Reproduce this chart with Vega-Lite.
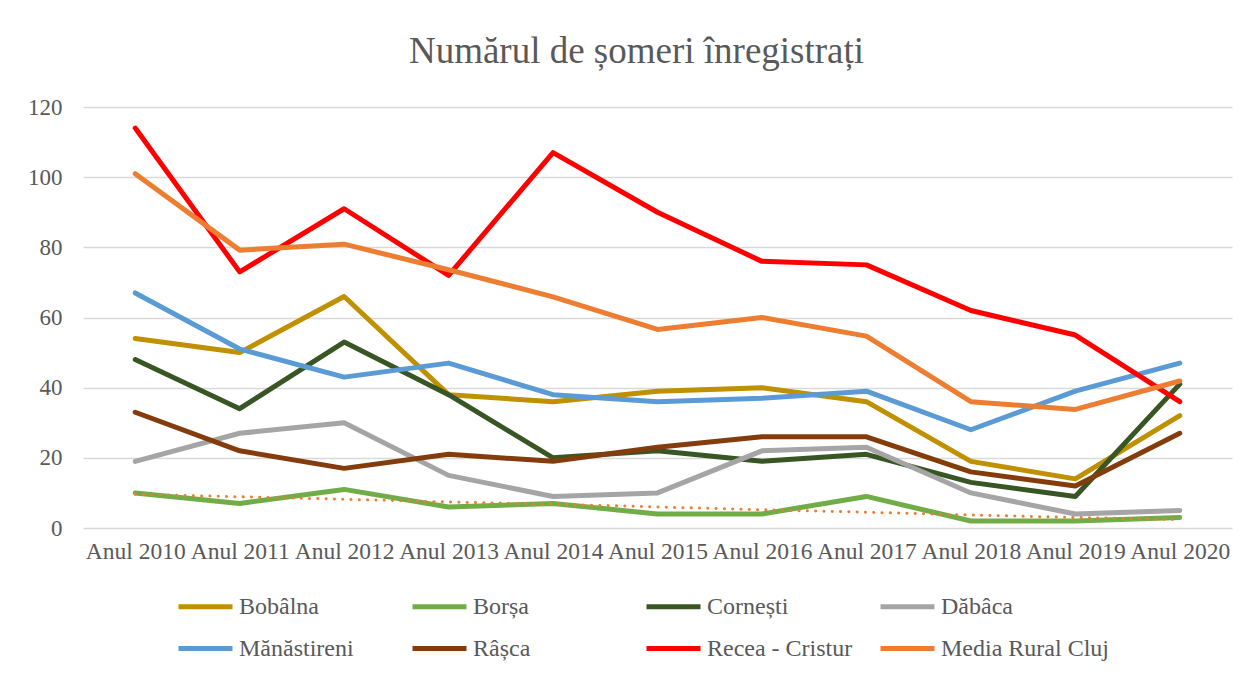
{
  "$schema": "https://vega.github.io/schema/vega-lite/v6.json",
  "autosize": "none",
  "width": 1149,
  "height": 421,
  "padding": {"left": 83, "top": 107, "right": 20, "bottom": 148},
  "background": "white",
  "config": {
    "font": "Liberation Serif",
    "view": {"stroke": null}
  },
  "title": {
    "text": "Numărul de șomeri înregistrați",
    "font": "Liberation Serif",
    "fontSize": 37,
    "fontWeight": "normal",
    "color": "#595959",
    "anchor": "middle",
    "frame": "group",
    "baseline": "alphabetic",
    "offset": -4,
    "dx": -21
  },
  "data": {
    "values": [
      {"an": "Anul 2010", "s": "Bobâlna", "v": 54},
      {"an": "Anul 2011", "s": "Bobâlna", "v": 50},
      {"an": "Anul 2012", "s": "Bobâlna", "v": 66},
      {"an": "Anul 2013", "s": "Bobâlna", "v": 38},
      {"an": "Anul 2014", "s": "Bobâlna", "v": 36},
      {"an": "Anul 2015", "s": "Bobâlna", "v": 39},
      {"an": "Anul 2016", "s": "Bobâlna", "v": 40},
      {"an": "Anul 2017", "s": "Bobâlna", "v": 36},
      {"an": "Anul 2018", "s": "Bobâlna", "v": 19},
      {"an": "Anul 2019", "s": "Bobâlna", "v": 14},
      {"an": "Anul 2020", "s": "Bobâlna", "v": 32},
      {"an": "Anul 2010", "s": "Borșa", "v": 10},
      {"an": "Anul 2011", "s": "Borșa", "v": 7},
      {"an": "Anul 2012", "s": "Borșa", "v": 11},
      {"an": "Anul 2013", "s": "Borșa", "v": 6},
      {"an": "Anul 2014", "s": "Borșa", "v": 7},
      {"an": "Anul 2015", "s": "Borșa", "v": 4},
      {"an": "Anul 2016", "s": "Borșa", "v": 4},
      {"an": "Anul 2017", "s": "Borșa", "v": 9},
      {"an": "Anul 2018", "s": "Borșa", "v": 2},
      {"an": "Anul 2019", "s": "Borșa", "v": 2},
      {"an": "Anul 2020", "s": "Borșa", "v": 3},
      {"an": "Anul 2010", "s": "Cornești", "v": 48},
      {"an": "Anul 2011", "s": "Cornești", "v": 34},
      {"an": "Anul 2012", "s": "Cornești", "v": 53},
      {"an": "Anul 2013", "s": "Cornești", "v": 38},
      {"an": "Anul 2014", "s": "Cornești", "v": 20},
      {"an": "Anul 2015", "s": "Cornești", "v": 22},
      {"an": "Anul 2016", "s": "Cornești", "v": 19},
      {"an": "Anul 2017", "s": "Cornești", "v": 21},
      {"an": "Anul 2018", "s": "Cornești", "v": 13},
      {"an": "Anul 2019", "s": "Cornești", "v": 9},
      {"an": "Anul 2020", "s": "Cornești", "v": 41},
      {"an": "Anul 2010", "s": "Dăbâca", "v": 19},
      {"an": "Anul 2011", "s": "Dăbâca", "v": 27},
      {"an": "Anul 2012", "s": "Dăbâca", "v": 30},
      {"an": "Anul 2013", "s": "Dăbâca", "v": 15},
      {"an": "Anul 2014", "s": "Dăbâca", "v": 9},
      {"an": "Anul 2015", "s": "Dăbâca", "v": 10},
      {"an": "Anul 2016", "s": "Dăbâca", "v": 22},
      {"an": "Anul 2017", "s": "Dăbâca", "v": 23},
      {"an": "Anul 2018", "s": "Dăbâca", "v": 10},
      {"an": "Anul 2019", "s": "Dăbâca", "v": 4},
      {"an": "Anul 2020", "s": "Dăbâca", "v": 5},
      {"an": "Anul 2010", "s": "Mănăstireni", "v": 67},
      {"an": "Anul 2011", "s": "Mănăstireni", "v": 51},
      {"an": "Anul 2012", "s": "Mănăstireni", "v": 43},
      {"an": "Anul 2013", "s": "Mănăstireni", "v": 47},
      {"an": "Anul 2014", "s": "Mănăstireni", "v": 38},
      {"an": "Anul 2015", "s": "Mănăstireni", "v": 36},
      {"an": "Anul 2016", "s": "Mănăstireni", "v": 37},
      {"an": "Anul 2017", "s": "Mănăstireni", "v": 39},
      {"an": "Anul 2018", "s": "Mănăstireni", "v": 28},
      {"an": "Anul 2019", "s": "Mănăstireni", "v": 39},
      {"an": "Anul 2020", "s": "Mănăstireni", "v": 47},
      {"an": "Anul 2010", "s": "Râșca", "v": 33},
      {"an": "Anul 2011", "s": "Râșca", "v": 22},
      {"an": "Anul 2012", "s": "Râșca", "v": 17},
      {"an": "Anul 2013", "s": "Râșca", "v": 21},
      {"an": "Anul 2014", "s": "Râșca", "v": 19},
      {"an": "Anul 2015", "s": "Râșca", "v": 23},
      {"an": "Anul 2016", "s": "Râșca", "v": 26},
      {"an": "Anul 2017", "s": "Râșca", "v": 26},
      {"an": "Anul 2018", "s": "Râșca", "v": 16},
      {"an": "Anul 2019", "s": "Râșca", "v": 12},
      {"an": "Anul 2020", "s": "Râșca", "v": 27},
      {"an": "Anul 2010", "s": "Recea - Cristur", "v": 114},
      {"an": "Anul 2011", "s": "Recea - Cristur", "v": 73},
      {"an": "Anul 2012", "s": "Recea - Cristur", "v": 91},
      {"an": "Anul 2013", "s": "Recea - Cristur", "v": 72},
      {"an": "Anul 2014", "s": "Recea - Cristur", "v": 107},
      {"an": "Anul 2015", "s": "Recea - Cristur", "v": 90},
      {"an": "Anul 2016", "s": "Recea - Cristur", "v": 76},
      {"an": "Anul 2017", "s": "Recea - Cristur", "v": 75},
      {"an": "Anul 2018", "s": "Recea - Cristur", "v": 62},
      {"an": "Anul 2019", "s": "Recea - Cristur", "v": 55},
      {"an": "Anul 2020", "s": "Recea - Cristur", "v": 36},
      {"an": "Anul 2010", "s": "Media Rural Cluj", "v": 101},
      {"an": "Anul 2011", "s": "Media Rural Cluj", "v": 79.2},
      {"an": "Anul 2012", "s": "Media Rural Cluj", "v": 80.9},
      {"an": "Anul 2013", "s": "Media Rural Cluj", "v": 73.6},
      {"an": "Anul 2014", "s": "Media Rural Cluj", "v": 65.9},
      {"an": "Anul 2015", "s": "Media Rural Cluj", "v": 56.6},
      {"an": "Anul 2016", "s": "Media Rural Cluj", "v": 60},
      {"an": "Anul 2017", "s": "Media Rural Cluj", "v": 54.7},
      {"an": "Anul 2018", "s": "Media Rural Cluj", "v": 36},
      {"an": "Anul 2019", "s": "Media Rural Cluj", "v": 33.8},
      {"an": "Anul 2020", "s": "Media Rural Cluj", "v": 41.9},
      {"an": "Anul 2010", "s": "Trend", "v": 9.6},
      {"an": "Anul 2011", "s": "Trend", "v": 8.9},
      {"an": "Anul 2012", "s": "Trend", "v": 8.2},
      {"an": "Anul 2013", "s": "Trend", "v": 7.4},
      {"an": "Anul 2014", "s": "Trend", "v": 6.8},
      {"an": "Anul 2015", "s": "Trend", "v": 6.0},
      {"an": "Anul 2016", "s": "Trend", "v": 5.2},
      {"an": "Anul 2017", "s": "Trend", "v": 4.5},
      {"an": "Anul 2018", "s": "Trend", "v": 3.7},
      {"an": "Anul 2019", "s": "Trend", "v": 3.0},
      {"an": "Anul 2020", "s": "Trend", "v": 2.4}
    ]
  },
  "encoding": {
    "x": {
      "field": "an",
      "type": "nominal",
      "sort": null,
      "scale": {"type": "point", "padding": 0.5},
      "axis": {
        "title": null,
        "domain": false,
        "ticks": false,
        "grid": false,
        "labelAngle": 0,
        "labelFont": "Liberation Serif",
        "labelFontSize": 23.5,
        "labelColor": "#595959",
        "labelPadding": 11,
        "labelOverlap": false
      }
    },
    "y": {
      "field": "v",
      "type": "quantitative",
      "scale": {"domain": [0, 120], "nice": false},
      "axis": {
        "title": null,
        "domain": false,
        "ticks": false,
        "values": [0, 20, 40, 60, 80, 100, 120],
        "grid": true,
        "gridColor": "#D9D9D9",
        "gridWidth": 1.3,
        "labelFont": "Liberation Serif",
        "labelFontSize": 23,
        "labelColor": "#595959",
        "labelPadding": 21
      }
    }
  },
  "layer": [
    {
      "transform": [{"filter": "datum.s !== 'Trend'"}],
      "mark": {"type": "line", "strokeWidth": 5, "strokeCap": "round", "strokeJoin": "round"},
      "encoding": {
        "color": {
          "field": "s",
          "type": "nominal",
          "scale": {
            "domain": ["Bobâlna", "Borșa", "Cornești", "Dăbâca", "Mănăstireni", "Râșca", "Recea - Cristur", "Media Rural Cluj"],
            "range": ["#BF9000", "#70AD47", "#375623", "#A5A5A5", "#5B9BD5", "#843C0C", "#FF0000", "#ED7D31"]
          },
          "legend": {
            "title": null,
            "orient": "none",
            "legendX": 93,
            "legendY": 470,
            "direction": "horizontal",
            "columns": 4,
            "gridAlign": "all",
            "columnPadding": -5,
            "rowPadding": -13,
            "padding": 0,
            "symbolType": "stroke",
            "symbolSize": 2916,
            "symbolStrokeWidth": 5,
            "labelOffset": 4,
            "labelFont": "Liberation Serif",
            "labelFontSize": 24,
            "labelColor": "#595959",
            "labelLimit": 300
          }
        }
      }
    },
    {
      "transform": [{"filter": "datum.s === 'Trend'"}],
      "mark": {"type": "line", "color": "#ED7D31", "strokeWidth": 3, "strokeCap": "round", "strokeDash": [0.1, 8.2]},
      "encoding": {}
    }
  ]
}
